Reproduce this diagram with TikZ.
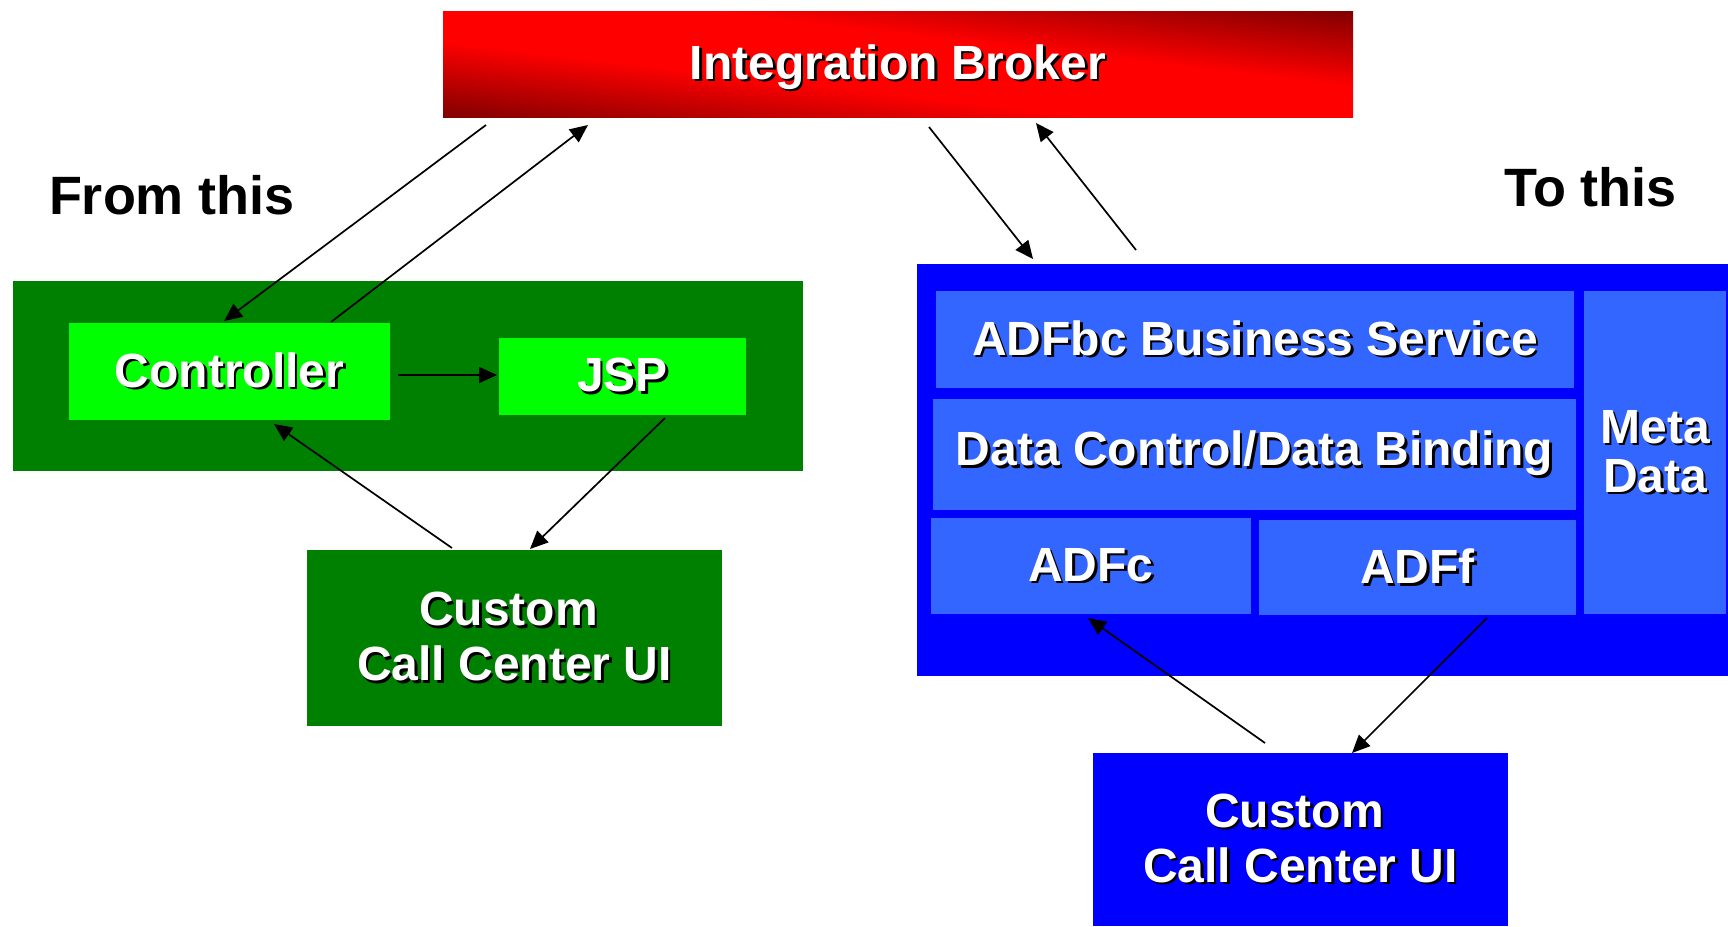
\documentclass[tikz,border=0pt]{standalone}
\usepackage{fontspec}
\setmainfont{Liberation Sans}
\usetikzlibrary{arrows.meta,calc}
\definecolor{dkgreen}{RGB}{0,128,0}
\definecolor{ltgreen}{RGB}{0,255,0}
\definecolor{bblue}{RGB}{0,0,255}
\definecolor{lblue}{RGB}{51,102,255}
\definecolor{ibdark}{RGB}{128,0,0}
\definecolor{ibred}{RGB}{255,0,0}
\pgfdeclareverticalshading{ibsh}{100bp}{color(0bp)=(ibdark); color(25bp)=(ibdark); color(43bp)=(ibred); color(57bp)=(ibred); color(75bp)=(ibdark); color(100bp)=(ibdark)}
\newcommand\sh[1]{\leavevmode\rlap{\kern2.5pt\raisebox{-2.5pt}{\textcolor{black}{#1}}}#1}
\begin{document}
\begin{tikzpicture}[x=1pt,y=-1pt,
  box/.style={anchor=north west, inner sep=0pt, outer sep=0pt, text=white,
    font=\fontsize{48}{55}\selectfont\bfseries, align=center},
  lbl/.style={anchor=west, inner sep=0pt, outer sep=0pt, text=black,
    font=\fontsize{54}{60}\selectfont\bfseries},
  conn/.style={line width=1.7pt, -{Triangle[length=18pt,width=16pt]}},
  ibshade/.style={path picture={
    \begin{scope}[transform canvas={rotate around={-6.64:(path picture bounding box.center)}}]
      \shade[shading=ibsh] ([shift={(-640,-106)}]path picture bounding box.center)
        rectangle ([shift={(640,106)}]path picture bounding box.center);
    \end{scope}}}
]
\useasboundingbox (0,0) rectangle (1728,926);
\fill[white] (0,0) rectangle (1728,926);

% Integration broker
\node[box, ibshade, minimum width=910pt, minimum height=106pt] (ib) at (443,11) {};
\node[inner sep=0pt, text=white, font=\fontsize{48}{55}\selectfont\bfseries, yshift=-4pt] (ibt) at (ib.center) {\sh{Integration Broker}};

% labels
\node[lbl] (from) at (49,195) {From this};
\node[lbl] (to) at (1504,187) {To this};

% left (green) side
\node[box, fill=dkgreen, minimum width=790pt, minimum height=190pt] (g) at (13,281) {};
\node[box, fill=ltgreen, minimum width=321pt, minimum height=97pt] (ctrl) at (69,323) {\sh{Controller}};
\node[box, fill=ltgreen, minimum width=247pt, minimum height=77pt] (jsp) at (499,338) {\sh{JSP}};
\node[box, fill=dkgreen, minimum width=415pt, minimum height=176pt] (cg) at (307,550) {\sh{Custom}\hspace*{12pt}\\\sh{Call Center UI}};

% right (blue) side
\node[box, fill=bblue, minimum width=811pt, minimum height=412pt] (b) at (917,264) {};
\node[box, fill=lblue, minimum width=638pt, minimum height=97pt] (adfbc) at (936,291) {\sh{ADFbc Business Service}};
\node[box, fill=lblue, minimum width=643pt, minimum height=111pt] (dcb) at (933,399) {\sh{Data Control/Data Binding}};
\node[box, fill=lblue, minimum width=320pt, minimum height=96pt] (adfc) at (931,518) {\sh{ADFc}};
\node[box, fill=lblue, minimum width=317pt, minimum height=95pt] (adff) at (1259,520) {\sh{ADFf}};
\node[box, fill=lblue, minimum width=142pt, minimum height=323pt,
  font=\fontsize{48}{49}\selectfont\bfseries] (meta) at (1584,291) {\sh{Meta}\\\sh{Data}};
\node[box, fill=bblue, minimum width=415pt, minimum height=173pt] (cb) at (1093,753) {\sh{Custom}\hspace*{12pt}\\\sh{Call Center UI}};

% connectors left
\draw[conn] ([shift={(43,8)}]ib.south west) -- ([shift={(155,-2)}]ctrl.north west);
\draw[conn] ([shift={(262,-1)}]ctrl.north west) -- ([shift={(145,8)}]ib.south west);
\draw[conn] ([shift={(8,3.5)}]ctrl.east) -- ([shift={(-2,-1.5)}]jsp.west);
\draw[conn] ([shift={(166,3)}]jsp.south west) -- ([shift={(223,-1)}]cg.north west);
\draw[conn] ([shift={(145,-2)}]cg.north west) -- ([shift={(205,4)}]ctrl.south west);

% connectors right
\draw[conn] ([shift={(486,10)}]ib.south west) -- ([shift={(116,-5)}]b.north west);
\draw[conn] ([shift={(219,-14)}]b.north west) -- ([shift={(593,6)}]ib.south west);
\draw[conn] ([shift={(172,-10)}]cb.north west) -- ([shift={(157,4)}]adfc.south west);
\draw[conn] ([shift={(228,3)}]adff.south west) -- ([shift={(259,0)}]cb.north west);
\end{tikzpicture}
\end{document}
